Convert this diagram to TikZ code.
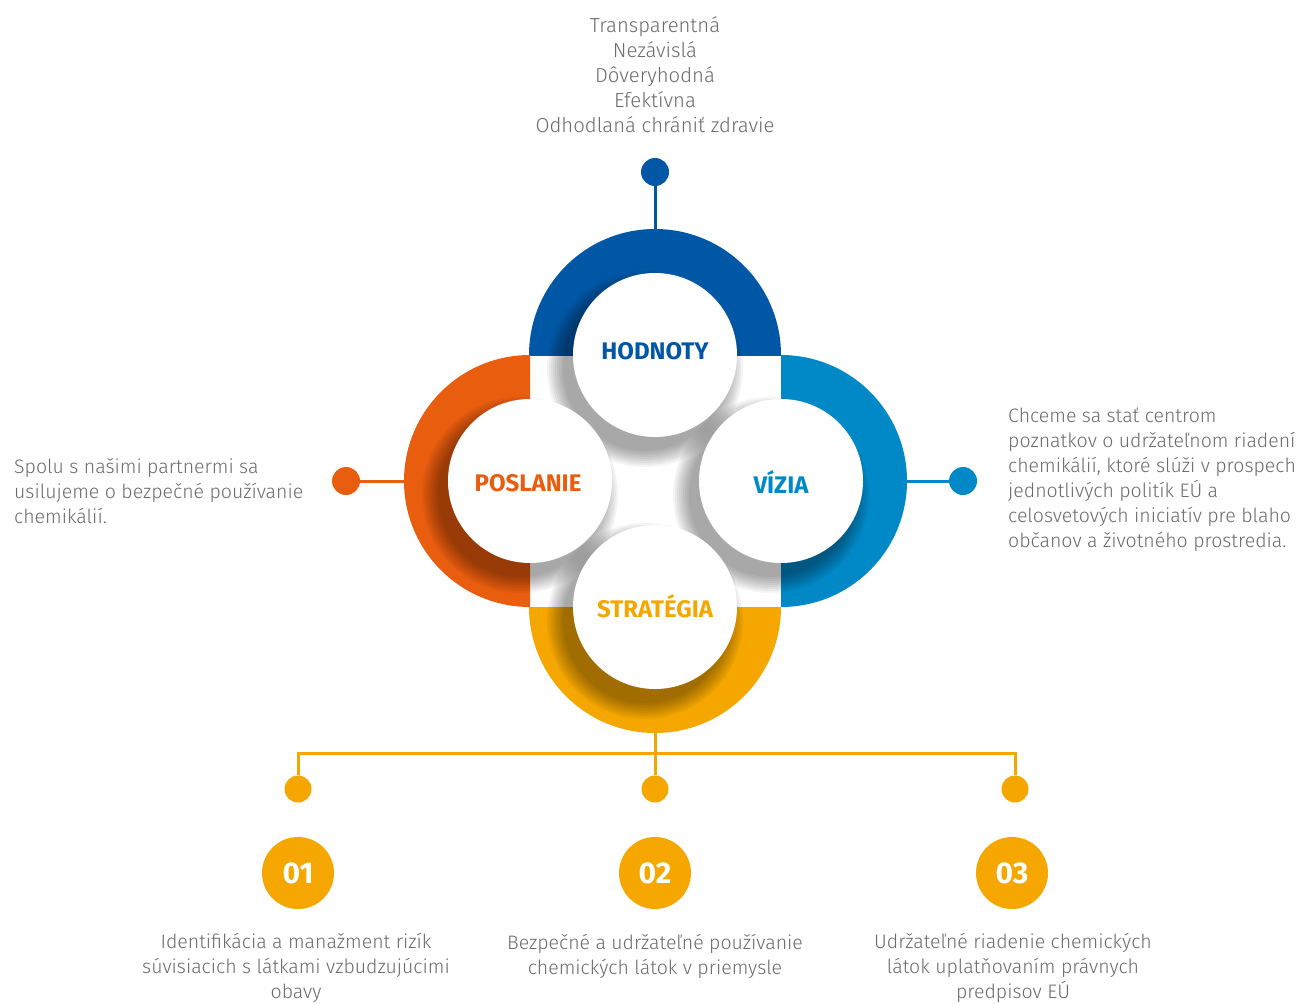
\documentclass[tikz,border=0pt]{standalone}
\usepackage{fontspec}
\setmainfont{Fira Sans}[UprightFont=* Light, BoldFont=* Bold]
\definecolor{dblue}{HTML}{0057A6}
\definecolor{lblue}{HTML}{0088C7}
\definecolor{orng}{HTML}{E95D0F}
\definecolor{gold}{HTML}{F5A700}
\definecolor{txtgray}{HTML}{6B6B6B}
\newcommand{\shadowat}[2]{%
  \foreach \k in {0,...,8}{%
    \fill[black, opacity=0.042] ({#1-10},{#2+14}) circle[radius={(98-2*\k)*1pt}];}}
\begin{document}
\begin{tikzpicture}[x=1pt,y=-1pt,
  dot/.style={circle, fill=#1, minimum size=28pt, inner sep=0pt},
  smalldot/.style={circle, fill=gold, minimum size=27pt, inner sep=0pt},
  conn/.style={line width=3pt, draw=#1},
  numc/.style={circle, fill=gold, minimum size=72pt, inner sep=0pt, text=white,
    font=\bfseries\fontsize{30}{30}\selectfont},
  wcirc/.style={circle, fill=white, minimum size=164pt, inner sep=0pt},
  lbl/.style={font=\bfseries\fontsize{24}{24}\selectfont, inner sep=0pt},
  body/.style={text=txtgray, font=\fontsize{19.5}{25}\selectfont, inner sep=0pt}]
\useasboundingbox (0,0) rectangle (1315,1004);
\fill[white] (0,0) rectangle (1315,1004);
% coloured half discs
\begin{scope}\clip (500,200) rectangle (810,355); \fill[dblue] (655,355) circle[radius=126pt]; \end{scope}
\begin{scope}\clip (380,340) rectangle (530,620); \fill[orng] (530,481) circle[radius=126pt]; \end{scope}
\begin{scope}\clip (781,340) rectangle (930,620); \fill[lblue] (781,481) circle[radius=126pt]; \end{scope}
\begin{scope}\clip (500,607) rectangle (810,760); \fill[gold] (655,607) circle[radius=126pt]; \end{scope}
% shadows
\shadowat{655}{355}
\shadowat{530}{481}
\shadowat{781}{481}
\shadowat{655}{607}
% white circles with labels
\node[wcirc] (hod) at (655,355) {};
\node[wcirc] (pos) at (530,481) {};
\node[wcirc] (viz) at (781,481) {};
\node[wcirc] (str) at (655,607) {};
\node[lbl, text=dblue] (lhod) at (655,351) {HODNOTY};
\node[lbl, text=orng] (lpos) at (528,483) {POSLANIE};
\node[lbl, text=lblue] (lviz) at (781,482) {VÍZIA};
\node[lbl, text=gold] (lstr) at (655,606) {STRATÉGIA};
% ring outer points
\coordinate (rtop) at (655,229);
\coordinate (rleft) at (404,481);
\coordinate (rright) at (907,481);
\coordinate (rbot) at (655,733);
% dots
\node[dot=dblue] (dtop) at (655,172) {};
\node[dot=orng] (dleft) at (346,481) {};
\node[dot=lblue] (dright) at (963,481) {};
\draw[conn=dblue] (dtop) -- (rtop);
\draw[conn=orng] (dleft) -- (rleft);
\draw[conn=lblue] (dright) -- (rright);
% bottom tree
\coordinate (bj) at (655,753);
\coordinate (hl) at (298,753);
\coordinate (hr) at (1015,753);
\node[smalldot] (d1) at (298,789) {};
\node[smalldot] (d2) at (655,789) {};
\node[smalldot] (d3) at (1015,789) {};
\draw[conn=gold] (rbot) -- (bj);
\draw[conn=gold, line cap=rect] (hl) -- (hr);
\draw[conn=gold] (hl) -- (d1);
\draw[conn=gold] (bj) -- (d2);
\draw[conn=gold] (hr) -- (d3);
\node[numc] (n1) at (298,873) {01};
\node[numc] (n2) at (655,873) {02};
\node[numc] (n3) at (1012,873) {03};
% texts
\node[body, align=center, font=\fontsize{20.3}{25}\selectfont] (tvals) at (655,75) {Transparentná\\Nezávislá\\Dôveryhodná\\Efektívna\\Odhodlaná chrániť zdravie};
\node[body, align=left, anchor=west] (tleft) at (14,491) {Spolu s našimi partnermi sa\\usilujeme o bezpečné používanie\\chemikálií.};
\node[body, align=left, anchor=west] (tright) at (1008,480) {Chceme sa stať centrom\\poznatkov o udržateľnom riadení\\chemikálií, ktoré slúži v prospech\\jednotlivých politík EÚ a\\celosvetových iniciatív pre blaho\\občanov a životného prostredia.};
\node[body, align=center] (t1) at (296,968) {Identifikácia a manažment rizík\\súvisiacich s látkami vzbudzujúcimi\\obavy};
\node[body, align=center] (t2) at (655,956) {Bezpečné a udržateľné používanie\\chemických látok v priemysle};
\node[body, align=center] (t3) at (1013,968) {Udržateľné riadenie chemických\\látok uplatňovaním právnych\\predpisov EÚ};
\end{tikzpicture}
\end{document}
